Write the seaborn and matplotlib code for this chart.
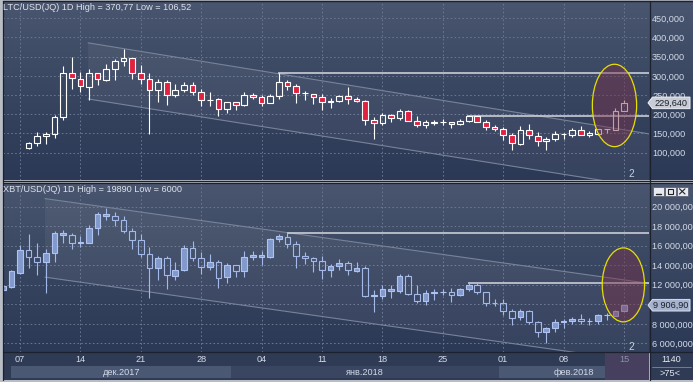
import numpy as np
import pandas as pd
import matplotlib
matplotlib.use("Agg")
import matplotlib.pyplot as plt
import seaborn as sns
from matplotlib.patches import Ellipse, Rectangle, Polygon
from matplotlib.colors import LinearSegmentedColormap
import matplotlib.transforms as mtransforms

# ---------------- data (day 0 = 07 Dec 2017) ----------------
ltc_day = list(range(1, 71))
ltc_open = [113, 125, 143, 149, 192, 307, 293, 272, 307, 290, 317, 338, 346, 307, 293, 263, 284, 249, 262, 277,
            258, 237, 240, 214, 232, 223, 250, 244, 229, 247, 284, 273, 255, 253, 245, 232, 234, 247, 240, 235,
            186, 178, 198, 190.5, 209, 183, 171.5, 178, 180, 179, 175, 183, 196, 180, 167, 162, 147, 123, 158, 144,
            131, 134.5, 147.5, 146.5, 158, 146, 149, 161, 158.6, 208]
ltc_high = [128.5, 154, 154, 197, 326, 350, 310, 318, 307, 331, 344, 370.77, 346, 328, 307, 291, 288, 278, 284.5, 284.5,
            265.5, 259, 242, 232, 232, 259, 256, 250, 253, 307, 290, 278, 260, 253, 253, 242, 250, 272, 245, 238,
            193, 203.5, 201, 214, 211, 195, 186, 186, 188, 179, 188, 196, 196, 184, 173, 166, 150, 169, 175, 154,
            141, 156, 151, 163, 170, 156, 162, 162, 216, 238]
ltc_low = [110, 117, 121.5, 137, 186, 266, 259, 238, 276, 287, 290, 326, 292, 279, 149, 231, 224, 244, 257, 249,
           221, 221, 195, 203.5, 212, 221, 239, 221, 229, 239, 262, 229, 236, 226, 210, 216, 231, 226, 231, 173,
           134.5, 171, 179, 184.5, 183, 167, 163, 171, 172, 163, 171, 179, 180, 159, 156, 133, 106.52, 119, 134.5, 117,
           106.8, 131, 136, 141, 146, 140, 146, 151, 158, 208]
ltc_close = [126, 143, 149, 193, 307, 294, 273, 307, 291, 317, 338, 346, 307, 293, 263, 284, 250, 263, 277, 257,
             236, 238, 214, 232, 224, 250, 245, 229, 247, 284, 274, 255, 256, 245, 232, 234, 247, 240, 234, 185,
             178, 198, 191, 209, 183, 172.5, 179, 179, 181, 175, 183, 196, 180, 166, 161, 146, 126, 158, 145, 131,
             136, 148, 148.5, 158, 146.5, 152, 162, 162.5, 209.5, 229.64]

xbt_day = list(range(-2, 71))
xbt_open = [11500, 11760, 13190, 15560, 14810, 14300, 15250, 17080, 17080, 16270, 16240, 17800, 19020, 19020, 18610,
            17530, 16580, 15150, 13730, 14750, 12910, 13530, 15760, 14750, 13830, 14340, 12780, 14030, 13390, 14850,
            14850, 14850, 16680, 16880, 16170, 14950, 14750, 14440, 13560, 13940, 14200, 13420, 13730, 10880, 10850,
            11390, 11360, 12850, 11050, 10300, 11150, 11250, 11250, 10980, 11590, 11930, 11280, 10170, 10170, 9360,
            8710, 9320, 8140, 7190, 7530, 8170, 8310, 8540, 8270, 8300, 8880, 8810, 9290]
xbt_high = [11900, 13560, 16070, 17190, 16270, 15660, 17530, 17630, 17290, 17020, 18100, 19490, 19890, 19490, 19050,
            17760, 17190, 15900, 14980, 14980, 14370, 16070, 16510, 15390, 15120, 14510, 14240, 14030, 15420, 15460,
            15490, 16750, 17150, 17250, 16440, 15360, 14880, 14920, 14140, 14640, 14440, 14300, 13900, 11490, 11930,
            11930, 13050, 13050, 11930, 11420, 11590, 11560, 11660, 11660, 12170, 12170, 11280, 10580, 10510, 9560,
            9490, 9450, 8340, 7700, 8540, 8540, 8710, 9050, 8610, 8980, 9120, 9390, 9970]
xbt_low = [11400, 11660, 13080, 13690, 12950, 11190, 14300, 16240, 15660, 15830, 16240, 17080, 18610, 17970, 17290,
           15660, 14810, 10680, 12440, 11590, 12510, 13390, 14470, 13120, 13560, 11690, 12170, 12780, 12780, 14580,
           14000, 14710, 16340, 15760, 13690, 14100, 13290, 12610, 12780, 13460, 12950, 13320, 10780, 9220, 10510,
           10680, 11150, 10920, 10170, 9900, 10470, 10980, 10240, 10850, 11360, 11050, 9830, 9800, 8950, 7860,
           8370, 8030, 6680, 6000, 7190, 7530, 8030, 8030, 7860, 8030, 8440, 8810, 9290]
xbt_close = [11850, 13420, 15560, 14810, 14300, 15250, 17290, 17250, 16270, 16400, 17830, 19220, 19220, 18610, 17530,
             16580, 15150, 13730, 14750, 12950, 13560, 15760, 14750, 13860, 14340, 12710, 14030, 13390, 14850, 15080,
             15050, 16680, 16950, 16170, 14920, 14710, 14440, 13530, 13970, 14200, 13460, 13690, 10850, 10950, 11590,
             11590, 12850, 11050, 10300, 11190, 11250, 11280, 10980, 11560, 11930, 11250, 10170, 10150, 9360, 8640,
             9320, 8140, 7190, 7530, 8170, 8340, 8540, 8270, 8300, 8880, 8900, 9290, 9906.9]

week_days = [0, 7, 14, 21, 28, 35, 42, 49, 56, 63, 70]
week_labels = ["07", "14", "21", "28", "04", "11", "18", "25", "01", "08", "15"]
month_labels = ["дек.2017", "янв.2018", "фев.2018"]
month_start = [-1.0, 24.5, 55.5]
month_end = [24.5, 55.5, 72.9]
future_start = 67.8

ltc_yticks = [100, 150, 200, 250, 300, 350, 400, 450]
ltc_yticklabels = ["100,000", "150,000", "200,000", "250,000", "300,000", "350,000", "400,000", "450,000"]
xbt_yticks = [6000, 8000, 12000, 14000, 16000, 18000, 20000]
xbt_yticklabels = ["6 000,000", "8 000,000", "12 000,000", "14 000,000",
                   "16 000,000", "18 000,000", "20 000,000"]
xbt_grid_extra = [10000]

ltc_level_start = [29.9, 51.8]
ltc_level_value = [307.5, 195.6]
xbt_level_start = [30.9, 51.9]
xbt_level_value = [17254, 12170]

ltc_chan_x = [7.9, 72.9]
ltc_chan_upper = [385.7, 149.0]
ltc_chan_lower = [239.8, 8.6]
xbt_chan_x = [2.9, 72.9]
xbt_chan_upper = [20814, 12139]
xbt_chan_lower = [12779, 4003]

ltc_ellipse = [68.9, 222.9, 5.13, 214.3]
xbt_ellipse = [69.93, 11986, 4.9, 7566]

ltc_title = "LTC/USD(JQ) 1D High = 370,77 Low = 106,52"
xbt_title = "XBT/USD(JQ) 1D High = 19890 Low = 6000"
ltc_last_label = "229,640"
xbt_last_label = "9 906,90"

# ---------------- style ----------------
sns.set_theme(style="dark")
plt.rcParams['font.family'] = ['Liberation Sans', 'DejaVu Sans']

W, H = 693, 382
XLIM = (-1.97, 72.9)
FS = 6.6
TXT = '#d3dae8'
GRID = dict(color='#6c7893', linestyle=(0, (1.6, 2.4)), lw=0.7)


def frac(x0, y0, x1, y1):
    return [x0 / W, 1 - y1 / H, (x1 - x0) / W, (y1 - y0) / H]


fig = plt.figure(figsize=(W / 100, H / 100), dpi=100)
fig.patch.set_facecolor('#b9bdc5')

bg_cmap = LinearSegmentedColormap.from_list('bg', ['#4a566f', '#3e4b65', '#34415d', '#2c3956'])


def background(rect):
    b = fig.add_axes(frac(*rect))
    b.imshow(np.linspace(0, 1, 256).reshape(-1, 1), aspect='auto', cmap=bg_cmap,
             extent=[0, 1, 0, 1], origin='upper')
    b.set_axis_off()
    return b


def candles(ax, x, o, h, l, c, up_face, up_edge, dn_face, dn_edge, wick_up, wick_dn, width=0.66):
    x = np.asarray(x, float); o = np.asarray(o, float); h = np.asarray(h, float)
    l = np.asarray(l, float); c = np.asarray(c, float)
    up = c >= o
    top = np.maximum(o, c); bot = np.minimum(o, c)
    wcol = [wick_up if u else wick_dn for u in up]
    ax.vlines(x, top, h, colors=wcol, lw=0.8, zorder=3)
    ax.vlines(x, l, bot, colors=wcol, lw=0.8, zorder=3)
    ax.bar(x, top - bot, bottom=bot, width=width,
           color=[up_face if u else dn_face for u in up],
           edgecolor=[up_edge if u else dn_edge for u in up], linewidth=0.8, zorder=4)


def setup_panel(ax, ylim, yticks, ylabels):
    ax.set_facecolor('none')
    ax.set_xlim(*XLIM)
    ax.set_ylim(*ylim)
    ax.set_xticks(week_days)
    ax.set_yticks(yticks)
    ax.set_yticklabels(ylabels)
    ax.yaxis.tick_right()
    ax.tick_params(axis='x', length=0, labelbottom=False)
    ax.tick_params(axis='y', length=0, pad=2.2, labelsize=FS, labelcolor=TXT)
    ax.grid(True, **GRID)
    for s in ax.spines.values():
        s.set_visible(False)


CHAN = dict(color='#78839a', lw=0.8, legend=False, zorder=2)

# ---------------- top panel: LTC ----------------
background((3, 2, 693, 180))
ax1 = fig.add_axes(frac(3, 2, 649, 180))
setup_panel(ax1, (29, 492), ltc_yticks, ltc_yticklabels)
ax1.add_patch(Polygon([(ltc_chan_x[0], ltc_chan_upper[0]), (ltc_chan_x[1], ltc_chan_upper[1]),
                       (ltc_chan_x[1], ltc_chan_lower[1]), (ltc_chan_x[0], ltc_chan_lower[0])],
                      closed=True, facecolor='white', alpha=0.05, edgecolor='none', zorder=1))
for yy in (ltc_chan_upper, ltc_chan_lower):
    sns.lineplot(x=ltc_chan_x, y=yy, ax=ax1, **CHAN)
for xs, v in zip(ltc_level_start, ltc_level_value):
    ax1.hlines(v, xs, XLIM[1], color='#c9cdd6', lw=1.2, zorder=2)
candles(ax1, ltc_day, ltc_open, ltc_high, ltc_low, ltc_close,
        up_face='none', up_edge='white', dn_face='#e0213f', dn_edge='white',
        wick_up='white', wick_dn='white')
ax1.add_patch(Ellipse((ltc_ellipse[0], ltc_ellipse[1]), ltc_ellipse[2], ltc_ellipse[3],
                      facecolor='#7a3048', alpha=0.45, edgecolor='none', zorder=6))
ax1.add_patch(Ellipse((ltc_ellipse[0], ltc_ellipse[1]), ltc_ellipse[2], ltc_ellipse[3],
                      facecolor='none', edgecolor='#e6e000', lw=0.9, zorder=7))

# ---------------- bottom panel: XBT ----------------
background((3, 183, 693, 352))
ax2 = fig.add_axes(frac(3, 183, 649, 352))
setup_panel(ax2, (5121, 22410), xbt_yticks, xbt_yticklabels)
for g in xbt_grid_extra:
    ax2.axhline(g, zorder=0.5, **GRID)
ax2.add_patch(Polygon([(xbt_chan_x[0], xbt_chan_upper[0]), (xbt_chan_x[1], xbt_chan_upper[1]),
                       (xbt_chan_x[1], xbt_chan_lower[1]), (xbt_chan_x[0], xbt_chan_lower[0])],
                      closed=True, facecolor='white', alpha=0.05, edgecolor='none', zorder=1))
for yy in (xbt_chan_upper, xbt_chan_lower):
    sns.lineplot(x=xbt_chan_x, y=yy, ax=ax2, **CHAN)
for xs, v in zip(xbt_level_start, xbt_level_value):
    ax2.hlines(v, xs, XLIM[1], color='#c9cdd6', lw=1.2, zorder=2)
candles(ax2, xbt_day, xbt_open, xbt_high, xbt_low, xbt_close,
        up_face='#8299cc', up_edge='#aec3f2', dn_face='none', dn_edge='#a3b9ea',
        wick_up='#a3b9ea', wick_dn='#a3b9ea')
ax2.add_patch(Ellipse((xbt_ellipse[0], xbt_ellipse[1]), xbt_ellipse[2], xbt_ellipse[3],
                      facecolor='#7a3048', alpha=0.45, edgecolor='none', zorder=6))
ax2.add_patch(Ellipse((xbt_ellipse[0], xbt_ellipse[1]), xbt_ellipse[2], xbt_ellipse[3],
                      facecolor='none', edgecolor='#e6e000', lw=0.9, zorder=7))

# ---------------- date strip ----------------
ax3 = fig.add_axes(frac(3, 352, 649, 380))
ax3.set_facecolor('#2f3b55')
ax3.set_xlim(*XLIM)
ax3.set_ylim(0, 1)
ax3.set_xticks([]); ax3.set_yticks([])
for s in ax3.spines.values():
    s.set_visible(False)
bt = mtransforms.blended_transform_factory(ax3.transData, ax3.transAxes)
mcols = ['#4a5873', '#3a4661', '#4a5873']
for ms, me, mc in zip(month_start, month_end, mcols):
    ax3.add_patch(Rectangle((ms, 0.07), me - ms, 0.43, transform=bt, facecolor=mc, edgecolor='none', zorder=1))
ax3.add_patch(Rectangle((future_start, 0.0), XLIM[1] - future_start, 1.0, transform=bt,
                        facecolor='#463f5e', edgecolor='none', zorder=2))
for ms, me, ml in zip(month_start, month_end, month_labels):
    ax3.text((ms + me) / 2, 0.28, ml, transform=bt, ha='center', va='center',
             fontsize=FS, color=TXT, zorder=3)
for d, lab in zip(week_days, week_labels):
    ax3.text(d, 0.72, lab, transform=bt, ha='center', va='center', fontsize=FS,
             color='#8a92a6' if d >= future_start else TXT, zorder=3)

# ---------------- overlay (pixel coordinates) ----------------
ov = fig.add_axes([0, 0, 1, 1])
ov.set_xlim(0, W); ov.set_ylim(H, 0)
ov.set_axis_off(); ov.set_facecolor('none')

ov.text(3, 7.5, ltc_title, fontsize=FS, color='#dde2ec', va='center', ha='left')
ov.text(3, 189, xbt_title, fontsize=FS, color='#dde2ec', va='center', ha='left')
ov.text(631, 174, "2", fontsize=FS + 0.6, color='#c8d0e0', ha='center', va='center')
ov.text(631, 347, "2", fontsize=FS + 0.6, color='#c8d0e0', ha='center', va='center')


def price_tag(ax, val, label, face, edge):
    yc = H - ax.transData.transform((0, val))[1]
    ov.add_patch(Polygon([(648, yc), (652.5, yc - 5.8), (690, yc - 5.8), (690, yc + 5.8), (652.5, yc + 5.8)],
                         closed=True, facecolor=face, edgecolor=edge, lw=0.7, zorder=5))
    ov.text(671, yc + 0.3, label, fontsize=FS, color='#1c1f26', ha='center', va='center', zorder=6)


price_tag(ax1, ltc_close[-1], ltc_last_label, '#c7ccd6', '#eef0f4')
price_tag(ax2, xbt_close[-1], xbt_last_label, '#a6b3cf', '#d8e0f0')

# frame lines
ov.plot([3, 3], [1, 380], color='#1b212d', lw=0.9)
ov.plot([649.5, 649.5], [1, 380], color='#1b212d', lw=0.9)
ov.plot([3, 693], [1.2, 1.2], color='#1b212d', lw=1.0)
ov.plot([3, 693], [180.6, 180.6], color='#1b212d', lw=0.9)
ov.plot([3, 693], [182.6, 182.6], color='#1b212d', lw=0.9)
ov.plot([3, 693], [352, 352], color='#1b212d', lw=0.9)

# corner box
ov.add_patch(Rectangle((650, 352.5), 43, 27.5, facecolor='#2f3b55', edgecolor='none'))
ov.text(671, 359.5, "1140", fontsize=FS, color='#e4e8f0', ha='center', va='center')
ov.plot([652, 691], [366.5, 366.5], color='#7d879c', lw=0.6)
ov.text(670, 373, ">75<", fontsize=FS, color='#e4e8f0', ha='center', va='center')

# window icons
for x0 in [653, 665, 677]:
    ov.add_patch(Rectangle((x0, 186.5), 10.5, 9.5, facecolor='#e6e9ef', edgecolor='#5a6274', lw=0.6, zorder=5))
ov.plot([655.5, 661], [193.8, 193.8], color='#222', lw=1.0, zorder=6)
ov.add_patch(Rectangle((667.5, 188.8), 5.5, 5.2, facecolor='none', edgecolor='#222', lw=0.8, zorder=6))
ov.plot([679.5, 685], [188.8, 194], color='#222', lw=0.8, zorder=6)
ov.plot([679.5, 685], [194, 188.8], color='#222', lw=0.8, zorder=6)

fig.savefig("out.png", dpi=100, facecolor=fig.get_facecolor())
